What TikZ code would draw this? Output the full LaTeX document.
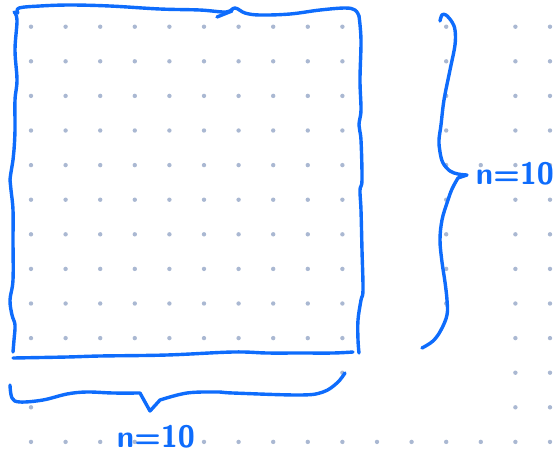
\documentclass[tikz,border=0pt]{standalone}
\definecolor{inkblue}{RGB}{14,108,252}
\definecolor{dotgray}{RGB}{170,184,210}

\begin{document}
\begin{tikzpicture}[x=0.5pt, y=-0.5pt,
    pen/.style={draw=inkblue, line width=1.7pt, line cap=round, line join=round},
    griddot/.style={fill=dotgray},
    hand/.style={text=inkblue, font=\fontsize{15.5}{15.5}\selectfont\sffamily\bfseries, inner sep=0pt}]
\useasboundingbox (0,0) rectangle (554,452);

% dot grid (only the dots that show)
\foreach \i in {0,...,9}
  \foreach \j in {0,...,9}
    \fill[griddot] ({31+34.6*\i},{26.7+34.6*\j}) circle (1.1pt);
\foreach \i in {14,15}
  \foreach \j in {0,...,12}
    \fill[griddot] ({31+34.6*\i},{26.7+34.6*\j}) circle (1.1pt);
\foreach \i in {0,...,13}
  \fill[griddot] ({31+34.6*\i},{26.7+34.6*12}) circle (1.1pt);
\foreach \j in {0,...,8}
  \fill[griddot] ({31+34.6*12},{26.7+34.6*\j}) circle (1.1pt);
\fill[griddot] ({31+34.6*9},{26.7+34.6*10}) circle (1.1pt);
\fill[griddot] (31,{26.7+34.6*11}) circle (1.1pt);
\fill[griddot] ({31+34.6*13},{26.7+34.6*4}) circle (1.1pt);

% the square
\draw[pen] plot[smooth, tension=.6] coordinates {(18,13) (19,8) (40,6) (70,5) (110,6) (160,9)
  (200,10) (226,12) (235,8) (245,13) (260,15) (290,14) (320,10) (345,8) (355,10) (359,16)};
\draw[pen] (217,17)--(232,11);
\draw[pen] plot[smooth, tension=.6] coordinates {(359,16) (361,40) (360,80) (361,110) (359,125)
  (361,140) (362,180) (360,190) (361,210) (362,250) (363,290) (361,300) (358,320) (358,340) (359,353)};
\draw[pen] plot[smooth, tension=.6] coordinates {(353,352) (333,353) (300,353) (267,353) (233,352)
  (167,355) (100,356) (67,357) (13,358)};
\draw[pen] plot[smooth, tension=.6] coordinates {(13,352) (14,340) (15,325) (12,315) (10,300)
  (13,280) (13,240) (13,210) (11,190) (10,180) (13,160) (14,150) (15,130) (15,100) (17,80)
  (15,50) (17,20) (14,12)};

% right brace
\draw[pen] plot[smooth, tension=.6] coordinates {(440,21) (442,15) (446,15) (452,22) (455,30)
  (455,45) (450,70) (444,100) (441,125) (439,140) (440,152) (443,163) (450,171) (458,174) (467,175)}
  -- plot[smooth, tension=.6] coordinates {(458,178) (452,189) (447,203) (442,220) (440,240)
  (442,262) (445,282) (447,300) (447,315) (441,330) (433,341) (422,348)};

% bottom brace
\draw[pen] plot[smooth, tension=.6] coordinates {(10,385) (12,398) (20,402) (43,400) (67,394)
  (87,392) (113,393) (140,393)} -- (150,411)
  -- plot[smooth, tension=.6] coordinates {(160,400) (187,393) (217,392) (233,393) (300,395)
  (323,392) (337,383) (345,373)};

\node[hand] (side) at (515,174) {n=10};
\node[hand] (base) at (156,437) {n=10};

\end{tikzpicture}
\end{document}
